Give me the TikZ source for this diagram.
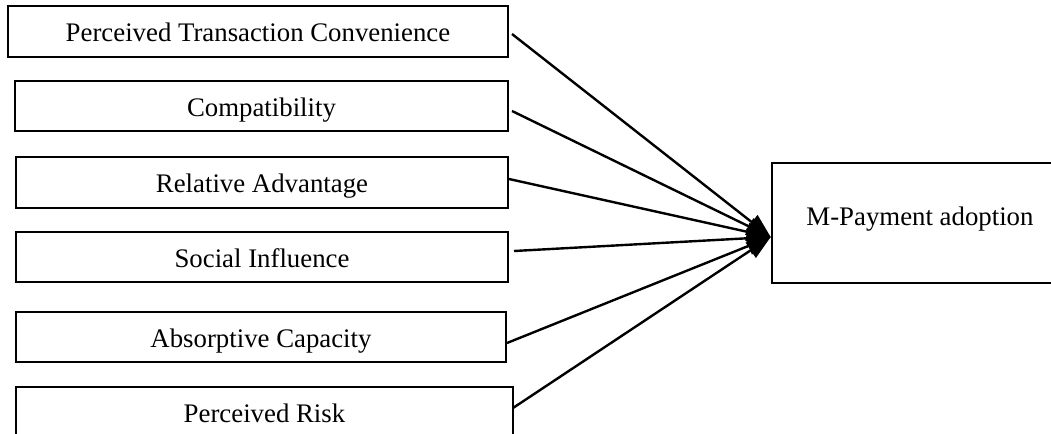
\documentclass[tikz,border=0pt]{standalone}
\usepackage{fontspec}
\setmainfont{Liberation Serif}
\usetikzlibrary{arrows.meta,calc}
\begin{document}
\begin{tikzpicture}[x=0.5pt,y=-0.5pt,
  box/.style={draw, line width=1.3pt, inner sep=0pt, minimum height=25pt,
    font=\fontsize{13.4}{16}\selectfont, text height=13pt, text depth=2.6pt},
  lbl/.style={inner sep=0pt, font=\fontsize{13.4}{16}\selectfont},
  link/.style={line width=1.2pt, -{Triangle[length=12pt,width=9pt]}}]
\useasboundingbox (0,0) rectangle (1051,434);
\node[box, minimum width=250pt, minimum height=25.5pt] (b1) at (258,31.5) {Perceived Transaction Convenience};
\node[box, minimum width=246.5pt] (b2) at (261.5,106) {Compatibility};
\node[box, minimum width=246pt, minimum height=25.5pt] (b3) at (262,182.5) {Relative Advantage};
\node[box, minimum width=246pt] (b4) at (262,257) {Social Influence};
\node[box, minimum width=245pt] (b5) at (261,337) {Absorptive Capacity};
\node[box, minimum width=248.5pt] (b6) at (264.5,412) {Perceived Risk};
\node[box, minimum width=148pt, minimum height=60pt] (M) at (920,223) {};
\node[lbl] (Mt) at (920,219) {M-Payment adoption};
\coordinate (tip) at ($(M.west)+(0,14)$);
\coordinate (s1) at (512,34);
\coordinate (s2) at (512,111);
\coordinate (s3) at (509,179);
\coordinate (s4) at (514,251);
\coordinate (s5) at (507,343);
\coordinate (s6) at (513,408);
\foreach \i in {1,...,6} \draw[link] (s\i) -- (tip);
\end{tikzpicture}
\end{document}
